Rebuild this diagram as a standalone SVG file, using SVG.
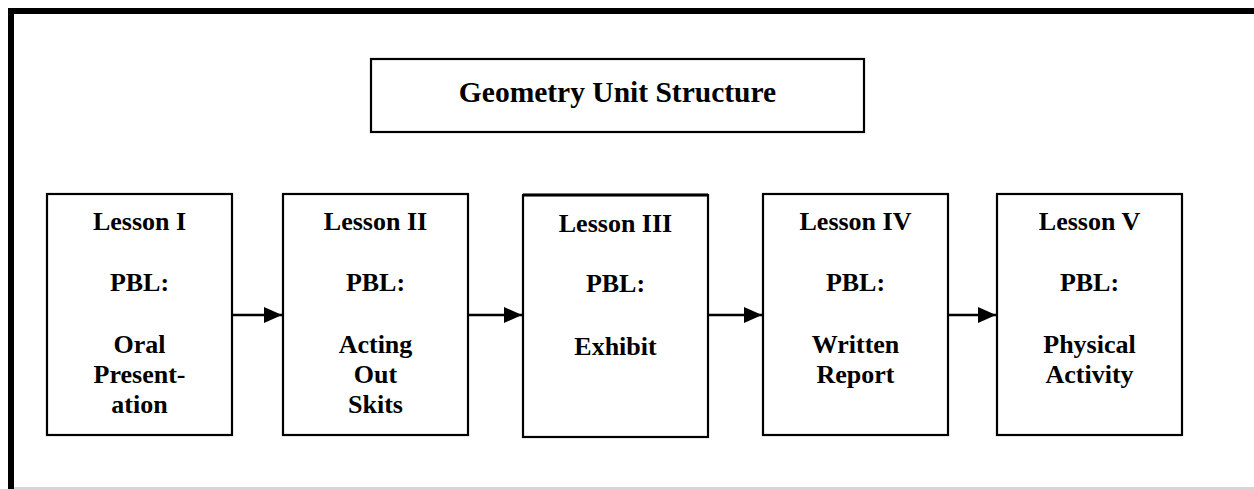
<svg xmlns="http://www.w3.org/2000/svg" width="1254" height="489" viewBox="0 0 1254 489">
<style>
.box{fill:#fff;stroke:#000;stroke-width:2.2}
.t{font-family:"Liberation Serif","Times New Roman",serif;font-weight:bold;font-size:26px;text-anchor:middle;fill:#000}
.title{font-size:29.5px}
.conn{stroke:#000;stroke-width:2.6;fill:none}
</style>
<defs>
<marker id="ah" markerUnits="userSpaceOnUse" markerWidth="18" markerHeight="16" refX="18" refY="8" orient="auto">
<path d="M0,0 L18,8 L0,16 Z" fill="#000"/>
</marker>
</defs>
<rect width="1254" height="489" fill="#fff"/>
<g id="frame">
<path d="M11,489 L11,11 L1254,11" fill="none" stroke="#000" stroke-width="6"/>
<line x1="14" y1="488" x2="1254" y2="488" stroke="#c8c8c8" stroke-width="1.5"/>
</g>
<g id="title">
<rect class="box" x="371" y="59" width="493" height="73"/>
<text class="t title" x="617.5" y="102">Geometry Unit Structure</text>
</g>
<g id="lesson1">
<rect class="box" x="47" y="194" width="185" height="241"/>
<text class="t" x="139.5" y="230">Lesson I</text>
<text class="t" x="139.5" y="291">PBL:</text>
<text class="t" x="139.5" y="353">Oral</text>
<text class="t" x="139.5" y="383">Present-</text>
<text class="t" x="139.5" y="413">ation</text>
</g>
<g id="lesson2">
<rect class="box" x="283" y="194" width="185" height="241"/>
<text class="t" x="375.5" y="230">Lesson II</text>
<text class="t" x="375.5" y="291">PBL:</text>
<text class="t" x="375.5" y="353">Acting</text>
<text class="t" x="375.5" y="383">Out</text>
<text class="t" x="375.5" y="413">Skits</text>
</g>
<g id="lesson3">
<rect class="box" x="523" y="195" width="185" height="242"/>
<line x1="523" y1="195" x2="708" y2="195" stroke="#000" stroke-width="3"/>
<text class="t" x="615.5" y="232">Lesson III</text>
<text class="t" x="615.5" y="292">PBL:</text>
<text class="t" x="615.5" y="355">Exhibit</text>
</g>
<g id="lesson4">
<rect class="box" x="763" y="194" width="185" height="241"/>
<text class="t" x="855.5" y="230">Lesson IV</text>
<text class="t" x="855.5" y="291">PBL:</text>
<text class="t" x="855.5" y="353">Written</text>
<text class="t" x="855.5" y="383">Report</text>
</g>
<g id="lesson5">
<rect class="box" x="997" y="194" width="185" height="241"/>
<text class="t" x="1089.5" y="230">Lesson V</text>
<text class="t" x="1089.5" y="291">PBL:</text>
<text class="t" x="1089.5" y="353">Physical</text>
<text class="t" x="1089.5" y="383">Activity</text>
</g>
<g id="connectors">
<line class="conn" x1="233" y1="315" x2="282" y2="315" marker-end="url(#ah)"/>
<line class="conn" x1="469" y1="315" x2="522" y2="315" marker-end="url(#ah)"/>
<line class="conn" x1="709" y1="315" x2="762" y2="315" marker-end="url(#ah)"/>
<line class="conn" x1="949" y1="315" x2="996" y2="315" marker-end="url(#ah)"/>
</g>
</svg>
